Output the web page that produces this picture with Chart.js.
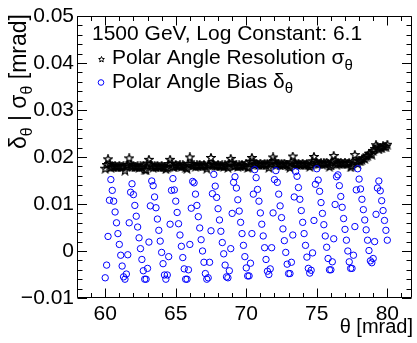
<!DOCTYPE html>
<html>
<head>
<meta charset="utf-8">
<script src="https://cdn.jsdelivr.net/npm/chart.js@4.4.1/dist/chart.umd.min.js"></script>
<style>
  html, body { margin: 0; padding: 0; background: #fff; }
  canvas { display: block; }
</style>
</head>
<body>
<canvas id="c" width="417" height="343"></canvas>
<script>
// polar angle scan, 0.1 mrad steps from 60 to 80 mrad
var thetaStart = 60.0;
var thetaStep = 0.1;

// Polar Angle Bias (delta_theta) [mrad]
var biasVals = [
    -0.0057, -0.0030, 0.0031, 0.0108, 0.0152, 0.0129, 0.0106, 0.0083, 0.0060, 0.0037,
    0.0014, -0.0009, -0.0032, -0.0055, -0.0060, -0.0049, -0.0008, 0.0060, 0.0125, 0.0143,
    0.0120, 0.0097, 0.0074, 0.0051, 0.0028, 0.0005, -0.0018, -0.0042, -0.0060, -0.0060,
    -0.0037, 0.0019, 0.0096, 0.0149, 0.0139, 0.0115, 0.0092, 0.0068, 0.0044, 0.0021,
    -0.0003, -0.0027, -0.0051, -0.0060, -0.0051, -0.0012, 0.0057, 0.0129, 0.0154, 0.0130,
    0.0106, 0.0082, 0.0058, 0.0034, 0.0010, -0.0014, -0.0038, -0.0060, -0.0060, -0.0040,
    0.0014, 0.0091, 0.0148, 0.0145, 0.0121, 0.0097, 0.0073, 0.0049, 0.0024, 0.0000,
    -0.0024, -0.0048, -0.0060, -0.0057, -0.0024, 0.0043, 0.0122, 0.0163, 0.0138, 0.0114,
    0.0090, 0.0066, 0.0042, 0.0018, -0.0006, -0.0030, -0.0055, -0.0057, -0.0042, 0.0005,
    0.0080, 0.0146, 0.0158, 0.0134, 0.0109, 0.0085, 0.0061, 0.0037, 0.0012, -0.0012,
    -0.0036, -0.0053, -0.0053, -0.0026, 0.0037, 0.0121, 0.0173, 0.0156, 0.0131, 0.0106,
    0.0081, 0.0057, 0.0032, 0.0007, -0.0018, -0.0043, -0.0050, -0.0038, 0.0007, 0.0081,
    0.0152, 0.0171, 0.0146, 0.0121, 0.0096, 0.0071, 0.0047, 0.0022, -0.0003, -0.0028,
    -0.0048, -0.0048, -0.0024, 0.0034, 0.0115, 0.0169, 0.0159, 0.0135, 0.0110, 0.0086,
    0.0061, 0.0037, 0.0012, -0.0013, -0.0037, -0.0047, -0.0041, -0.0004, 0.0065, 0.0142,
    0.0175, 0.0151, 0.0127, 0.0103, 0.0080, 0.0056, 0.0032, 0.0008, -0.0016, -0.0040,
    -0.0040, -0.0023, 0.0026, 0.0099, 0.0158, 0.0162, 0.0139, 0.0116, 0.0093, 0.0069,
    0.0046, 0.0023, 0.0000, -0.0023, -0.0037, -0.0037, -0.0009, 0.0052, 0.0130, 0.0175,
    0.0153, 0.0132, 0.0110, 0.0088, 0.0066, 0.0045, 0.0023, 0.0001, -0.0021, -0.0025,
    -0.0016, 0.0020, 0.0078, 0.0134, 0.0149, 0.0128, 0.0107, 0.0086, 0.0065, 0.0044,
    0.0023
];

// Polar Angle Resolution (sigma_theta) [mrad]
var resVals = [
    0.0175, 0.0183, 0.0195, 0.0185, 0.0177, 0.0180, 0.0178, 0.0181, 0.0179, 0.0178,
    0.0181, 0.0178, 0.0179, 0.0180, 0.0171, 0.0180, 0.0183, 0.0197, 0.0184, 0.0178,
    0.0181, 0.0178, 0.0179, 0.0180, 0.0177, 0.0180, 0.0178, 0.0181, 0.0173, 0.0172,
    0.0186, 0.0194, 0.0184, 0.0180, 0.0177, 0.0180, 0.0178, 0.0181, 0.0179, 0.0178,
    0.0181, 0.0178, 0.0179, 0.0174, 0.0177, 0.0185, 0.0194, 0.0186, 0.0179, 0.0178,
    0.0183, 0.0180, 0.0181, 0.0182, 0.0179, 0.0182, 0.0180, 0.0177, 0.0175, 0.0185,
    0.0199, 0.0185, 0.0181, 0.0182, 0.0179, 0.0182, 0.0180, 0.0183, 0.0181, 0.0180,
    0.0183, 0.0180, 0.0175, 0.0182, 0.0184, 0.0198, 0.0185, 0.0183, 0.0181, 0.0180,
    0.0183, 0.0180, 0.0181, 0.0182, 0.0179, 0.0182, 0.0180, 0.0177, 0.0186, 0.0196,
    0.0188, 0.0180, 0.0181, 0.0182, 0.0179, 0.0182, 0.0180, 0.0183, 0.0181, 0.0180,
    0.0186, 0.0177, 0.0178, 0.0190, 0.0198, 0.0190, 0.0183, 0.0186, 0.0184, 0.0183,
    0.0186, 0.0183, 0.0184, 0.0185, 0.0182, 0.0185, 0.0177, 0.0186, 0.0189, 0.0199,
    0.0191, 0.0183, 0.0184, 0.0185, 0.0182, 0.0185, 0.0183, 0.0186, 0.0184, 0.0183,
    0.0180, 0.0177, 0.0189, 0.0201, 0.0187, 0.0185, 0.0183, 0.0186, 0.0184, 0.0183,
    0.0186, 0.0183, 0.0184, 0.0185, 0.0182, 0.0179, 0.0183, 0.0191, 0.0200, 0.0188,
    0.0188, 0.0185, 0.0186, 0.0187, 0.0184, 0.0187, 0.0185, 0.0188, 0.0186, 0.0179,
    0.0182, 0.0190, 0.0202, 0.0192, 0.0184, 0.0187, 0.0185, 0.0188, 0.0186, 0.0185,
    0.0188, 0.0185, 0.0186, 0.0187, 0.0178, 0.0181, 0.0190, 0.0204, 0.0191, 0.0185,
    0.0192, 0.0191, 0.0194, 0.0197, 0.0196, 0.0201, 0.0202, 0.0207, 0.0207, 0.0205,
    0.0213, 0.0217, 0.0225, 0.0221, 0.0216, 0.0220, 0.0219, 0.0223, 0.0222, 0.0222,
    0.0226
];

var xTicks = [60, 65, 70, 75, 80];
var yTicks = [-0.01, 0, 0.01, 0.02, 0.03, 0.04, 0.05];

var titleText = '1500 GeV, Log Constant: 6.1';
var FONT = '"Liberation Sans", Arial, Helvetica, sans-serif';

var thetaVals = biasVals.map(function (v, i) {
    return +(thetaStart + thetaStep * i).toFixed(1);
});

function makeStar(size, lw) {
    var c = document.createElement('canvas');
    c.width = size;
    c.height = size;
    var g = c.getContext('2d');
    var cx = size / 2, cy = size / 2;
    var ro = size / 2 - lw / 2, ri = ro * 0.45;
    g.beginPath();
    for (var i = 0; i < 10; i++) {
        var a = -Math.PI / 2 + i * Math.PI / 5;
        var r = (i % 2) ? ri : ro;
        g.lineTo(cx + r * Math.cos(a), cy + r * Math.sin(a));
    }
    g.closePath();
    g.strokeStyle = '#000';
    g.lineWidth = lw;
    g.stroke();
    return c;
}
var starImg = makeStar(10, 1.3);
var legendStar = makeStar(7, 1);

// text with theta subscripts, parts = [[text, isSub], ...]
function richWidth(ctx, parts, size) {
    var w = 0;
    parts.forEach(function (p) {
        ctx.font = (p[1] ? Math.round(size * 0.7) : size) + 'px ' + FONT;
        w += ctx.measureText(p[0]).width;
    });
    return w;
}
function drawRich(ctx, parts, x, y, size) {
    parts.forEach(function (p) {
        ctx.font = (p[1] ? Math.round(size * 0.7) : size) + 'px ' + FONT;
        ctx.fillText(p[0], x, p[1] ? y + size * 0.28 : y);
        x += ctx.measureText(p[0]).width;
    });
}

var rootFramePlugin = {
    id: 'rootFrame',
    afterDraw: function (chart) {
        var ctx = chart.ctx, a = chart.chartArea;
        var xs = chart.scales.x, ys = chart.scales.y;
        ctx.save();
        ctx.strokeStyle = '#000';
        ctx.lineWidth = 1;
        var L = Math.round(a.left) + 0.5, R = Math.round(a.right) - 0.5;
        var T = Math.round(a.top) + 0.5, B = Math.round(a.bottom) - 0.5;
        ctx.beginPath();
        ctx.rect(L, T, R - L, B - T);
        // x ticks, inside, bottom and top
        for (var xv = 58; xv <= 81; xv++) {
            var px = Math.round(xs.getPixelForValue(xv)) + 0.5;
            var len = (xv % 5 === 0) ? 9 : 4.5;
            ctx.moveTo(px, B); ctx.lineTo(px, B - len);
            ctx.moveTo(px, T); ctx.lineTo(px, T + len);
        }
        // y ticks, inside, left and right
        for (var k = 0; k <= 30; k++) {
            var yv = -0.01 + k * 0.002;
            var py = Math.round(ys.getPixelForValue(yv)) + 0.5;
            var ylen = (k % 5 === 0) ? 9.5 : 5;
            ctx.moveTo(L, py); ctx.lineTo(L + ylen, py);
            ctx.moveTo(R, py); ctx.lineTo(R - ylen, py);
        }
        ctx.stroke();

        ctx.fillStyle = '#000';
        ctx.textBaseline = 'alphabetic';
        ctx.textAlign = 'left';

        // legend block inside the frame
        ctx.font = '21px ' + FONT;
        ctx.fillText(titleText, 92, 40);
        ctx.drawImage(legendStar, 98, 56);
        drawRich(ctx, [['Polar Angle Resolution \u03C3', false], ['\u03B8', true]], 112, 64, 21);
        ctx.strokeStyle = '#0000ff';
        ctx.beginPath();
        ctx.arc(101, 82.5, 2.8, 0, Math.PI * 2);
        ctx.stroke();
        drawRich(ctx, [['Polar Angle Bias \u03B4', false], ['\u03B8', true]], 112, 87.5, 21);

        // x axis title, right aligned
        var xt = [['\u03B8 [mrad]', false]];
        var xw = richWidth(ctx, xt, 20);
        drawRich(ctx, xt, 413 - xw, 333, 20);

        // y axis title, rotated
        var yt = [['\u03B4', false], ['\u03B8', true], [' | \u03C3', false], ['\u03B8', true], [' [mrad]', false]];
        var yw = richWidth(ctx, yt, 23);
        ctx.translate(26, 14 + yw);
        ctx.rotate(-Math.PI / 2);
        drawRich(ctx, yt, 0, 0, 23);
        ctx.restore();
    }
};

var ctx = document.getElementById('c').getContext('2d');
var chart = new Chart(ctx, {
    type: 'scatter',
    data: {
        datasets: [
            {
                label: 'Polar Angle Bias',
                data: thetaVals.map(function (t, i) { return { x: t, y: biasVals[i] }; }),
                pointStyle: 'circle',
                pointRadius: 3.2,
                borderColor: '#0000ff',
                backgroundColor: 'rgba(0,0,0,0)',
                borderWidth: 1
            },
            {
                label: 'Polar Angle Resolution',
                data: thetaVals.map(function (t, i) { return { x: t, y: resVals[i] }; }),
                pointStyle: starImg,
                pointRadius: 4,
                borderColor: '#000',
                backgroundColor: 'rgba(0,0,0,0)'
            }
        ]
    },
    options: {
        responsive: false,
        animation: false,
        devicePixelRatio: 1,
        layout: { padding: { top: 16, right: 4, left: 0, bottom: 0 } },
        plugins: {
            legend: { display: false },
            tooltip: { enabled: false }
        },
        scales: {
            x: {
                type: 'linear',
                min: 58,
                max: 81.75,
                afterBuildTicks: function (s) { s.ticks = xTicks.map(function (v) { return { value: v }; }); },
                afterFit: function (s) { s.height = 45; },
                grid: { display: false, drawTicks: false },
                border: { display: false },
                ticks: {
                    color: '#000',
                    font: { family: FONT, size: 21 },
                    padding: 4,
                    maxRotation: 0,
                    autoSkip: false
                }
            },
            y: {
                type: 'linear',
                min: -0.01,
                max: 0.05,
                afterBuildTicks: function (s) { s.ticks = yTicks.map(function (v) { return { value: v }; }); },
                afterFit: function (s) { s.width = 77; },
                grid: { display: false, drawTicks: false },
                border: { display: false },
                ticks: {
                    color: '#000',
                    font: { family: FONT, size: 21 },
                    padding: 3,
                    autoSkip: false,
                    callback: function (v) {
                        if (Math.abs(v) < 1e-9) return '0';
                        return v < 0 ? '\u2212' + Math.abs(v).toFixed(2) : v.toFixed(2);
                    }
                }
            }
        }
    },
    plugins: [rootFramePlugin]
});
</script>
</body>
</html>
